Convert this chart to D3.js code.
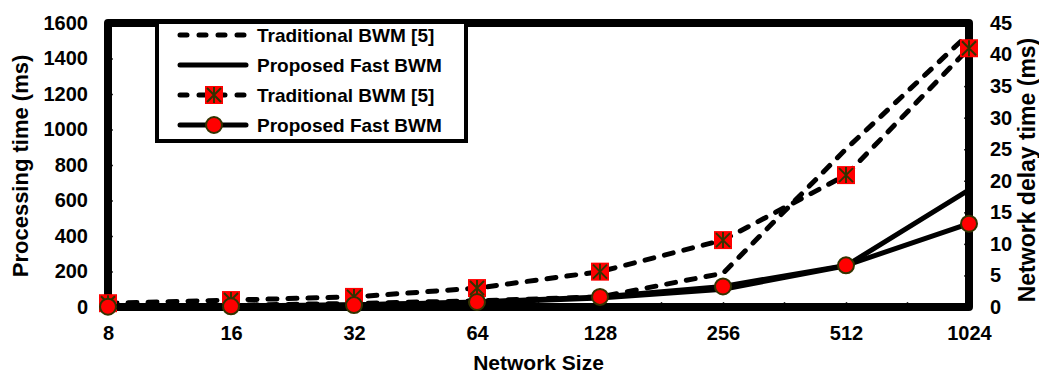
<!DOCTYPE html>
<html><head><meta charset="utf-8">
<script src="https://cdn.jsdelivr.net/npm/d3@7"></script>
<style>
html,body{margin:0;padding:0;background:#fff;}
text{font-family:"Liberation Sans",Arial,sans-serif;font-weight:bold;fill:#000;}
</style></head>
<body><svg id="c" width="1039" height="374"></svg>
<script>
const categories = ["8","16","32","64","128","256","512","1024"];
const tradProc   = [5, 10, 20, 35, 57, 190, 890, 1540];
const fastProc   = [3, 6, 12, 25, 50, 100, 232, 660];
const tradDelay  = [0.6, 1.1, 1.6, 3.0, 5.6, 10.6, 20.9, 41];
const fastDelay  = [0.05, 0.1, 0.3, 0.8, 1.6, 3.26, 6.6, 13.2];
const leftTicks  = [0,200,400,600,800,1000,1200,1400,1600];
const rightTicks = [0,5,10,15,20,25,30,35,40,45];
const legendLabels = ["Traditional BWM [5]","Proposed Fast BWM","Traditional BWM [5]","Proposed Fast BWM"];

const svg = d3.select("#c");
const L=108,R=969,T=23,B=307;
const x = d3.scalePoint().domain(categories).range([L,R]);
const yL = d3.scaleLinear().domain([0,1600]).range([B,T]);
const yR = d3.scaleLinear().domain([0,45]).range([B,T]);

const gL = svg.append("g").attr("transform",`translate(${L},0)`)
  .call(d3.axisLeft(yL).tickValues(leftTicks).tickFormat(d3.format("d")).tickSizeInner(-5).tickSizeOuter(0).tickPadding(20));
const gR = svg.append("g").attr("transform",`translate(${R},0)`)
  .call(d3.axisRight(yR).tickValues(rightTicks).tickFormat(d3.format("d")).tickSizeInner(-5).tickSizeOuter(0).tickPadding(21));
const gB = svg.append("g").attr("transform",`translate(0,${B})`)
  .call(d3.axisBottom(x).tickSizeInner(-5).tickSizeOuter(0).tickPadding(19));
[gL,gR,gB].forEach(g=>{
  g.select(".domain").remove();
  g.selectAll(".tick line").attr("stroke","#333").attr("stroke-width",1.5);
  g.selectAll(".tick text").style("font-size","20px").style("font-family",'"Liberation Sans",Arial,sans-serif').style("font-weight","bold");
});
const mids = categories.slice(0,-1).map((c,i)=>(x(c)+x(categories[i+1]))/2);
svg.append("g").selectAll("line").data(mids).join("line")
  .attr("x1",d=>d).attr("x2",d=>d).attr("y1",B).attr("y2",B-5)
  .attr("stroke","#333").attr("stroke-width",1.5);

svg.append("rect").attr("x",L).attr("y",T).attr("width",R-L).attr("height",B-T)
  .attr("fill","none").attr("stroke","#000").attr("stroke-width",8).attr("stroke-linejoin","round");

svg.append("text").attr("transform","translate(20,166) rotate(-90)")
  .attr("text-anchor","middle").attr("dy","0.35em").style("font-size","22px").text("Processing time (ms)");
svg.append("text").attr("transform","translate(1027,170) rotate(-90)")
  .attr("text-anchor","middle").attr("dy","0.35em").style("font-size","23px").text("Network delay time (ms)");
svg.append("text").attr("x",(L+R)/2).attr("y",363)
  .attr("text-anchor","middle").attr("dy","0.35em").style("font-size","21px").text("Network Size");

const DASH="9,11";
function drawLine(vals, y, dashed){
  const line = d3.line().x((d,i)=>x(categories[i])).y(d=>y(d));
  svg.append("path").attr("d",line(vals)).attr("fill","none").attr("stroke","#000")
    .attr("stroke-width",5).attr("stroke-linecap","round").attr("stroke-linejoin","round")
    .attr("stroke-dasharray",dashed?DASH:null);
}
function squareMarker(g,cx,cy){
  const s=9;
  g.append("rect").attr("x",cx-s).attr("y",cy-s).attr("width",2*s).attr("height",2*s).attr("fill","#ff0000");
  const a=7;
  g.append("path").attr("d",`M${cx-a},${cy-a}L${cx+a},${cy+a}M${cx-a},${cy+a}L${cx+a},${cy-a}M${cx},${cy-a-1}L${cx},${cy+a+1}`)
    .attr("stroke","#333300").attr("stroke-width",2).attr("fill","none");
}
function circleMarker(g,cx,cy){
  g.append("circle").attr("cx",cx).attr("cy",cy).attr("r",8).attr("fill","#ff0000")
    .attr("stroke","#333300").attr("stroke-width",2);
}

drawLine(tradProc, yL, true);
drawLine(fastProc, yL, false);
drawLine(tradDelay, yR, true);
const gm1 = svg.append("g");
tradDelay.forEach((v,i)=>squareMarker(gm1,x(categories[i]),yR(v)));
drawLine(fastDelay, yR, false);
const gm2 = svg.append("g");
fastDelay.forEach((v,i)=>circleMarker(gm2,x(categories[i]),yR(v)));

const lg = svg.append("g");
lg.append("rect").attr("x",157).attr("y",22).attr("width",309).attr("height",119)
  .attr("fill","#fff").attr("stroke","#000").attr("stroke-width",4);
const rowsY=[35,65,95,125];
legendLabels.forEach((lab,i)=>{
  const yy=rowsY[i];
  const dashed = (i%2===0);
  lg.append("line").attr("x1",180).attr("x2",246).attr("y1",yy).attr("y2",yy)
    .attr("stroke","#000").attr("stroke-width",5).attr("stroke-linecap","round")
    .attr("stroke-dasharray",dashed?"7,12":null);
  if(i===2) squareMarker(lg,214,yy);
  if(i===3) circleMarker(lg,214,yy);
  lg.append("text").attr("x",257).attr("y",yy).attr("dy","0.35em").style("font-size","19px").text(lab);
});
</script></body></html>
